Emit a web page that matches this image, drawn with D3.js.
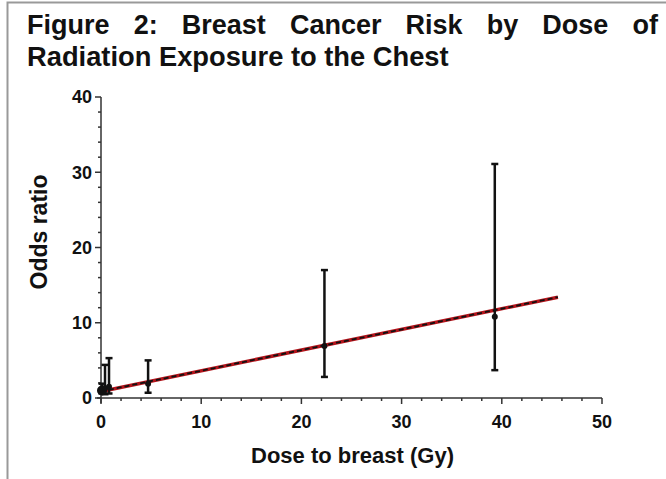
<!DOCTYPE html>
<meta charset="utf-8">
<style>
body { margin: 0; background: #fff; }
text { font-family: "Liberation Sans", Arial, sans-serif; fill: #111; }
</style>
<svg width="666" height="479"></svg>
<script src="https://cdn.jsdelivr.net/npm/d3@7"></script>
<script>
// study points: dose (Gy), odds ratio, 95% CI
var dose  = [0.1, 0.4, 0.8, 4.7, 22.3, 39.3];
var odds  = [1.0, 1.3, 1.5, 1.9, 6.9, 10.8];
var lower = [0.6, 0.5, 0.6, 0.7, 2.8, 3.7];
var upper = [1.9, 4.4, 5.3, 5.0, 17.0, 31.1];

// fitted linear trend
var fitDose = [0, 45.6];
var fitOdds = [0.87, 13.4];

var xTicks = [0, 10, 20, 30, 40, 50];
var yTicks = [0, 10, 20, 30, 40];

var titleLine1 = ["Figure", "2:", "Breast", "Cancer", "Risk", "by", "Dose", "of"];
var titleLine2 = "Radiation Exposure to the Chest";

var svg = d3.select("svg"),
    margin = {top: 97, right: 64, bottom: 81, left: 101},
    width = +svg.attr("width"),
    height = +svg.attr("height");

var x = d3.scaleLinear().domain([0, 50]).range([margin.left, width - margin.right]);
var y = d3.scaleLinear().domain([0, 40]).range([height - margin.bottom, margin.top]);

// grey frame
svg.append("path")
    .attr("d", "M7.5,479 V2.5 H666")
    .attr("fill", "none")
    .attr("stroke", "#999")
    .attr("stroke-width", 2);

// title, first line justified
var t1 = svg.append("g").attr("font-size", 27).attr("font-weight", "bold");
var words = t1.selectAll("text").data(titleLine1).enter().append("text")
    .attr("y", 34)
    .text(function(d) { return d; });
var widths = [];
words.each(function() { widths.push(this.getComputedTextLength()); });
var left = 27, right = 658;
var gap = (right - left - d3.sum(widths)) / (titleLine1.length - 1);
var pos = left;
words.attr("x", function(d, i) { var p = pos; pos += widths[i] + gap; return p; });

svg.append("text")
    .attr("x", 27).attr("y", 66)
    .attr("font-size", 27.3).attr("font-weight", "bold")
    .text(titleLine2);

// axes
var axisColor = "#333";
var gx = svg.append("g").attr("transform", "translate(0," + y(0) + ")");
gx.append("line").attr("x1", x(0) - 4).attr("x2", x(50))
    .attr("stroke", axisColor).attr("stroke-width", 1.5);
gx.selectAll(".minor").data(d3.range(0, 51, 2)).enter().append("line")
    .attr("x1", function(d) { return x(d); }).attr("x2", function(d) { return x(d); })
    .attr("y1", 0).attr("y2", function(d) { return d % 10 === 0 ? 6 : 3; })
    .attr("stroke", axisColor).attr("stroke-width", 1.5);
gx.selectAll(".lab").data(xTicks).enter().append("text")
    .attr("x", function(d) { return x(d); })
    .attr("y", 30)
    .attr("text-anchor", "middle")
    .attr("font-size", 18).attr("font-weight", "bold")
    .text(function(d) { return d; });

var gy = svg.append("g").attr("transform", "translate(" + x(0) + ",0)");
gy.append("line").attr("y1", y(0) + 5).attr("y2", y(40))
    .attr("stroke", axisColor).attr("stroke-width", 1.5);
gy.selectAll(".minor").data(d3.range(0, 41, 2)).enter().append("line")
    .attr("y1", function(d) { return y(d); }).attr("y2", function(d) { return y(d); })
    .attr("x1", 0).attr("x2", function(d) { return d % 10 === 0 ? -6 : -3; })
    .attr("stroke", axisColor).attr("stroke-width", 1.5);
gy.selectAll(".lab").data(yTicks).enter().append("text")
    .attr("x", -9)
    .attr("y", function(d) { return y(d); })
    .attr("dy", "0.35em")
    .attr("text-anchor", "end")
    .attr("font-size", 18).attr("font-weight", "bold")
    .text(function(d) { return d; });

// axis titles
svg.append("text")
    .attr("x", (x(0) + x(50)) / 2 + 1).attr("y", 463)
    .attr("text-anchor", "middle")
    .attr("font-size", 22).attr("font-weight", "bold")
    .text("Dose to breast (Gy)");
svg.append("text")
    .attr("transform", "translate(47,232) rotate(-90)")
    .attr("text-anchor", "middle")
    .attr("font-size", 23).attr("font-weight", "bold")
    .text("Odds ratio");

// trend line: red under black dashes
var fit = fitDose.map(function(d, i) { return [x(d), y(fitOdds[i])]; });
var line = d3.line();
svg.append("path").attr("d", line(fit))
    .attr("stroke", "#b3141b").attr("stroke-width", 3.5).attr("fill", "none");
svg.append("path").attr("d", line(fit))
    .attr("stroke", "#111").attr("stroke-width", 1.8)
    .attr("stroke-dasharray", "5,3").attr("fill", "none");

// error bars and points
var pts = dose.map(function(d, i) {
  return {d: d, o: odds[i], lo: lower[i], hi: upper[i]};
});
var g = svg.append("g").attr("stroke", "#111").attr("stroke-width", 2.5);
g.selectAll(".bar").data(pts).enter().append("line")
    .attr("x1", function(p) { return x(p.d); }).attr("x2", function(p) { return x(p.d); })
    .attr("y1", function(p) { return y(p.lo); }).attr("y2", function(p) { return y(p.hi); });
g.selectAll(".capHi").data(pts).enter().append("line")
    .attr("x1", function(p) { return x(p.d) - 3.5; }).attr("x2", function(p) { return x(p.d) + 3.5; })
    .attr("y1", function(p) { return y(p.hi); }).attr("y2", function(p) { return y(p.hi); });
g.selectAll(".capLo").data(pts).enter().append("line")
    .attr("x1", function(p) { return x(p.d) - 3.5; }).attr("x2", function(p) { return x(p.d) + 3.5; })
    .attr("y1", function(p) { return y(p.lo); }).attr("y2", function(p) { return y(p.lo); });
svg.append("g").selectAll("circle").data(pts).enter().append("circle")
    .attr("cx", function(p) { return x(p.d); })
    .attr("cy", function(p) { return y(p.o); })
    .attr("r", function(p, i) { return i === 0 ? 5 : 3; })
    .attr("fill", "#111");
</script>
